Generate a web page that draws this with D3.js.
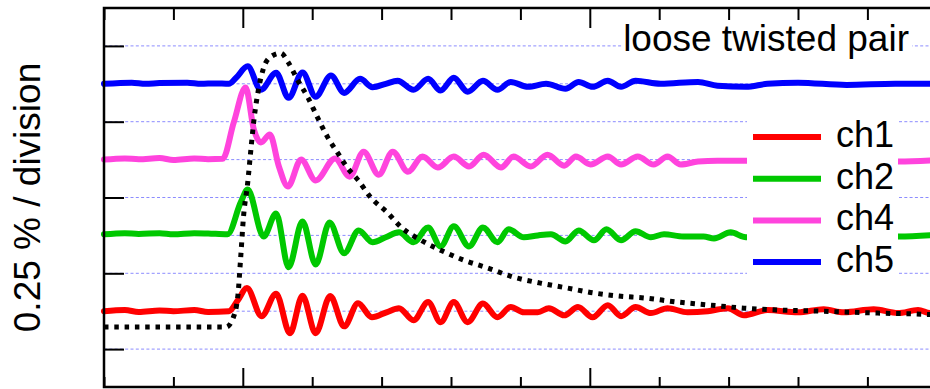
<html lang="en">
<head>
  <meta http-equiv="Content-Type" content="text/html; charset=utf-8" />
  <script src="https://d3js.org/d3.v7.min.js"></script>
  <style>
    body { margin: 0; background: #fff; }
    text { font-family: "Liberation Sans", Arial, sans-serif; }
  </style>
</head>
<body>
  <div id="chart"></div>
  <script>
    // time in divisions (major tick at 0), signal in divisions (0.25 % each)
    const ch1 = [[-2.0, 0], [-1.7, 0.03], [-1.5, -0.02], [-1.2, 0.02], [-1.0, 0], [-0.7, 0.03], [-0.5, -0.02], [-0.2, 0], [-0.07, 0.29], [0.06, 0.61], [0.27, -0.13],
      [0.48, 0.46], [0.68, -0.58], [0.86, 0.41], [1.05, -0.58], [1.26, 0.40], [1.46, -0.40], [1.66, 0.21], [1.86, -0.16],
      [2.07, -0.03], [2.25, 0.08], [2.46, -0.24], [2.67, 0.24], [2.85, -0.29], [3.04, 0.24], [3.24, -0.29], [3.46, 0.20],
      [3.67, -0.16], [3.86, 0.11], [4.05, -0.03], [4.25, -0.03], [4.41, 0.08], [4.63, -0.11], [4.83, 0.11], [5.04, -0.16],
      [5.26, 0.16], [5.45, -0.13], [5.66, 0.11], [5.88, -0.05], [6.12, 0.08], [6.41, -0.03], [6.70, 0], [6.99, 0.08],
      [7.22, -0.11], [7.56, 0.03], [8.00, -0.03], [8.37, 0.05], [8.66, -0.03], [9.09, 0.05], [9.44, -0.05], [9.73, 0.03],
      [9.91, -0.05], [10.1, 0]];
    const ch2 = [[-2.0, 0.03], [-1.7, 0.06], [-1.5, 0.04], [-1.2, 0.06], [-1.0, 0.03], [-0.7, 0.06], [-0.5, 0.05], [-0.22, 0.03], [-0.03, 0.87], [0.07, 1.21], [0.30, -0.03],
      [0.48, 0.58], [0.66, -0.84], [0.86, 0.37], [1.05, -0.77], [1.25, 0.34], [1.46, -0.47], [1.67, 0.13], [1.87, -0.18],
      [2.06, -0.05], [2.25, 0.08], [2.46, -0.18], [2.67, 0.21], [2.85, -0.29], [3.04, 0.24], [3.26, -0.29], [3.46, 0.21],
      [3.67, -0.18], [3.83, 0.16], [4.05, -0.05], [4.25, 0], [4.44, 0.03], [4.65, -0.16], [4.84, 0.13], [5.06, -0.13],
      [5.24, 0.16], [5.45, -0.13], [5.66, 0.11], [5.88, -0.05], [6.07, 0.03], [6.35, -0.03], [6.64, -0.03], [6.79, -0.08],
      [7.03, 0.08], [7.25, -0.05], [9.45, -0.03], [10.1, 0.03]];
    const ch4 = [[-2.0, 0], [-1.7, 0.03], [-1.5, 0.01], [-1.2, 0.04], [-1.0, -0.01], [-0.7, 0.03], [-0.5, 0.01], [-0.29, 0.02], [-0.13, 0.98], [0.04, 1.90], [0.16, 0.79],
      [0.26, 0.45], [0.39, 0.66], [0.52, -0.18], [0.65, -0.71], [0.84, 0], [1.05, -0.55], [1.33, 0.03], [1.54, -0.45],
      [1.74, 0.21], [1.96, -0.40], [2.16, 0.21], [2.38, -0.32], [2.59, 0.08], [2.81, -0.21], [3.04, 0.08], [3.26, -0.18],
      [3.47, 0.13], [3.72, -0.21], [3.90, 0.08], [4.15, -0.18], [4.39, 0.13], [4.63, -0.16], [4.80, 0.08], [5.01, -0.13],
      [5.26, 0.08], [5.45, -0.13], [5.69, 0.08], [5.92, -0.13], [6.12, 0.08], [6.31, -0.13], [6.56, -0.05], [6.84, -0.03],
      [7.13, -0.03], [8.0, -0.03], [9.45, -0.05], [10.1, 0]];
    const ch5 = [[-2.0, 0], [-1.6, 0.03], [-1.4, 0], [-1.2, 0.02], [-0.8, 0.03], [-0.6, 0], [-0.4, 0.01], [-0.2, 0], [-0.1, 0.15], [0.07, 0.46],
      [0.26, -0.16], [0.48, 0.29], [0.66, -0.37], [0.86, 0.30], [1.05, -0.34], [1.27, 0.22], [1.46, -0.24], [1.69, 0.13],
      [1.87, -0.09], [2.06, 0], [2.23, 0.08], [2.46, -0.16], [2.67, 0.13], [2.85, -0.18], [3.04, 0.16], [3.24, -0.21],
      [3.46, 0.08], [3.67, -0.16], [3.86, 0.05], [4.11, -0.08], [4.37, 0], [4.65, -0.13], [4.84, 0.05], [5.04, -0.08],
      [5.26, 0.08], [5.45, -0.08], [5.66, 0.08], [6.02, 0], [6.56, 0.05], [6.84, -0.05], [7.25, -0.08], [7.56, 0],
      [8.0, 0.03], [8.7, -0.03], [9.4, 0], [10.1, 0]];
    // reference pulse (dotted), absolute divisions
    const pulse = [[-2.0, 1.58], [-0.24, 1.58], [-0.14, 1.82], [-0.07, 2.43], [-0.03, 3.43], [0.01, 4.49], [0.07, 5.38],
      [0.12, 6.33], [0.16, 7.04], [0.23, 7.89], [0.30, 8.42], [0.40, 8.71], [0.55, 8.81], [0.65, 8.58], [0.79, 8.10],
      [0.94, 7.63], [1.08, 7.10], [1.22, 6.60], [1.37, 6.17], [1.51, 5.78], [1.66, 5.46], [1.84, 5.01], [2.09, 4.59],
      [2.28, 4.22], [2.56, 3.88], [2.85, 3.61], [3.18, 3.35], [3.53, 3.14], [3.90, 2.90], [4.29, 2.74], [4.68, 2.61],
      [5.06, 2.48], [5.42, 2.40], [5.78, 2.35], [6.27, 2.24], [6.74, 2.16], [7.22, 2.08], [7.71, 2.03], [8.18, 2.01],
      [8.66, 1.98], [9.15, 1.95], [9.63, 1.93], [10.06, 1.90]];

    const channelNames = ["ch1", "ch2", "ch4", "ch5"];
    const channelData = [ch1, ch2, ch4, ch5];
    const channelOffsets = [2, 4, 6, 8];
    const channelColors = ["#ff0000", "#00c800", "#ff44dd", "#0000ff"];
    const title = "loose twisted pair";
    const yLabel = "0.25 % / division";

    const svgW = 930, svgH = 389;
    const plotLeft = 104, plotTop = 8, plotBottom = 387;
    const divPx = 69.4;

    const svg = d3.select("#chart").append("svg")
      .attr("width", svgW).attr("height", svgH);

    const x = d3.scaleLinear().domain([-2, 10.5]).range([plotLeft, plotLeft + 12.5 * divPx]);
    const y = d3.scaleLinear().domain([0, 10]).range([plotBottom, plotTop]);

    // grid
    svg.append("g")
      .selectAll("line")
      .data(d3.range(1, 10))
      .join("line")
      .attr("x1", plotLeft).attr("x2", x(10.5))
      .attr("y1", d => y(d)).attr("y2", d => y(d))
      .attr("stroke", "#8c8cff")
      .attr("stroke-width", 1)
      .attr("stroke-dasharray", "3,2.3");

    // axes (ticks only, no labels)
    const majorX = [0, 5, 10];
    const minorX = d3.range(-2, 11).filter(d => !majorX.includes(d));
    const tickStyle = g => {
      g.select(".domain").remove();
      g.selectAll("line").attr("stroke", "#000").attr("stroke-width", 2);
    };
    svg.append("g").attr("transform", `translate(0,${plotTop})`)
      .call(d3.axisTop(x).tickValues(majorX).tickSize(-20).tickFormat(""))
      .call(tickStyle);
    svg.append("g").attr("transform", `translate(0,${plotTop})`)
      .call(d3.axisTop(x).tickValues(minorX).tickSize(-12).tickFormat(""))
      .call(tickStyle);
    svg.append("g").attr("transform", `translate(0,${plotBottom})`)
      .call(d3.axisBottom(x).tickValues(majorX).tickSize(-19).tickFormat(""))
      .call(tickStyle);
    svg.append("g").attr("transform", `translate(0,${plotBottom})`)
      .call(d3.axisBottom(x).tickValues(minorX).tickSize(-10).tickFormat(""))
      .call(tickStyle);
    svg.append("g").attr("transform", `translate(${plotLeft},0)`)
      .call(d3.axisLeft(y).tickValues([1, 3, 5, 7, 9]).tickSize(-20).tickFormat(""))
      .call(tickStyle);

    // data lines
    const line = d3.line().curve(d3.curveMonotoneX);
    channelData.forEach((data, i) => {
      svg.append("path")
        .attr("d", line(data.map(d => [x(d[0]), y(d[1] + channelOffsets[i])])))
        .attr("fill", "none")
        .attr("stroke", channelColors[i])
        .attr("stroke-width", 6)
        .attr("stroke-linejoin", "round")
        .attr("stroke-linecap", "round");
    });

    svg.append("path")
      .attr("d", line(pulse.map(d => [x(d[0]), y(d[1])])))
      .attr("fill", "none")
      .attr("stroke", "#000")
      .attr("stroke-width", 5)
      .attr("stroke-dasharray", "4.5,5.8");

    // frame
    svg.append("rect")
      .attr("x", plotLeft).attr("y", plotTop)
      .attr("width", x(10.5) - plotLeft).attr("height", plotBottom - plotTop)
      .attr("fill", "none").attr("stroke", "#000").attr("stroke-width", 2.5);

    // title with white box
    svg.append("rect").attr("x", 622).attr("y", 26).attr("width", 290).attr("height", 38).attr("fill", "#fff");
    svg.append("text")
      .attr("x", 909).attr("y", 51)
      .attr("text-anchor", "end")
      .attr("font-size", 37)
      .text(title);

    // legend
    const legend = svg.append("g");
    legend.append("rect").attr("x", 747).attr("y", 116).attr("width", 151).attr("height", 167).attr("fill", "#fff");
    channelNames.forEach((name, i) => {
      const cy = 137 + i * 41.7;
      legend.append("line")
        .attr("x1", 753).attr("x2", 821)
        .attr("y1", cy).attr("y2", cy)
        .attr("stroke", channelColors[i])
        .attr("stroke-width", 6);
      legend.append("text")
        .attr("x", 836).attr("y", cy + 10)
        .attr("font-size", 36)
        .text(name);
    });

    // y label
    svg.append("text")
      .attr("transform", `translate(40,${(plotTop + plotBottom) / 2}) rotate(-90)`)
      .attr("text-anchor", "middle")
      .attr("font-size", 37)
      .text(yLabel);
  </script>
</body>
</html>
